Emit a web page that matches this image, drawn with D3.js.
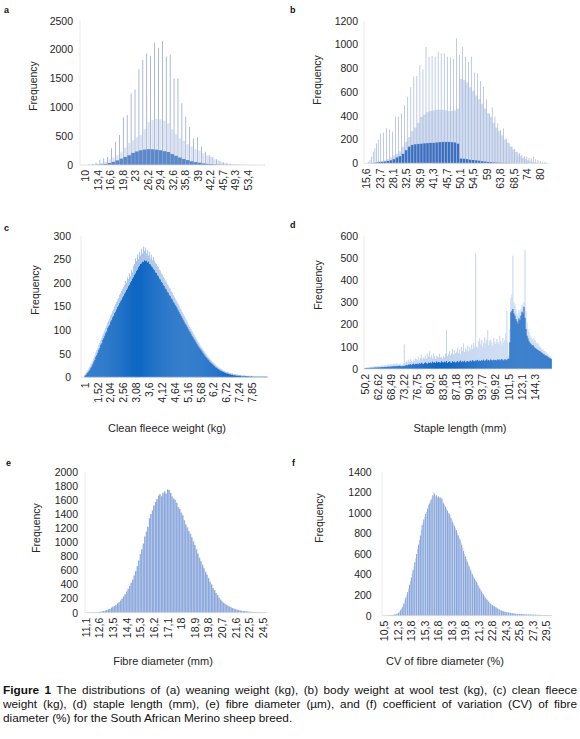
<!DOCTYPE html>
<html><head><meta charset="utf-8">
<script src="https://cdn.jsdelivr.net/npm/d3@7"></script>
<style>
body{margin:0;background:#fff;}
svg{display:block;font-family:"Liberation Sans",Arial,sans-serif;}
</style></head><body>
<svg id="fig" width="580" height="739"></svg>
<script>
// ---------------- DATA ----------------
// (a) weaning weight (kg)
const aTicks=[10,13.4,16.6,19.8,23,26.2,29.4,32.6,35.8,39,42.2,45.7,49.3,53.4];
const aTickLabels=["10","13,4","16,6","19,8","23","26,2","29,4","32,6","35,8","39","42,2","45,7","49,3","53,4"];
const aYTicks=[0,500,1000,1500,2000,2500];
const aKg=[11,12,13,14,15,16,17,18,19,20,21,22,23,24,25,26,27,28,29,30,31,32,33,34,35,36,37,38,39,40,41,42,43,44,45,46,47,48,49,50,51,52,53,54,55,56,57];
const aSpike=[8,15,40,90,120,140,290,400,520,825,865,1240,1310,1660,1820,1930,1890,2120,2030,2150,1875,1915,1500,1500,1070,840,660,460,480,320,230,170,140,100,70,45,30,20,14,10,7,5,4,3,2,2,1];
const aLight=[5,10,20,40,60,100,130,170,220,300,380,430,480,520,620,740,780,800,790,770,720,620,540,460,420,360,320,270,250,200,160,140,100,80,50,35,25,15,10,7,5,3,2,2,1,1,0];
const aFill=[2,3,6,10,20,35,55,80,110,140,170,210,235,255,268,275,272,265,255,240,225,190,160,130,105,85,65,50,40,28,20,15,10,7,5,3,2,1,1,1,0,0,0,0,0,0,0];

// (b) body weight at wool test (kg)
const bTicks=[15.6,23.7,28.1,32.5,36.9,41.3,45.7,50.1,54.5,59,63.8,68.5,74,80];
const bTickLabels=["15,6","23,7","28,1","32,5","36,9","41,3","45,7","50,1","54,5","59","63,8","68,5","74","80"];
const bYTicks=[0,200,400,600,800,1000,1200];
const bKg=[16,17,18,19,20,21,22,23,24,25,26,27,28,29,30,31,32,33,34,35,36,37,38,39,40,41,42,43,44,45,46,47,48,49,50,51,52,53,54,55,56,57,58,59,60,61,62,63,64,65,66,67,68,69,70,71,72,73,74,75,76,77,78,79,80,81,82,83,84];
const bSpike=[5,12,28,56,98,126,168,200,252,258,294,286,266,393,393,420,490,560,640,730,735,827,790,980,897,903,897,940,925,925,897,890,880,1051,911,980,897,855,897,763,757,692,645,538,420,471,393,336,280,294,210,168,140,120,98,85,70,60,56,45,40,56,35,28,20,12,8,4,2];
const bLight=[0,0,2,4,6,10,14,18,20,25,35,50,65,80,100,140,180,220,270,300,340,390,410,430,440,445,450,450,450,445,440,440,445,460,710,700,680,640,610,570,540,500,460,420,390,340,300,270,235,200,175,140,115,95,75,60,45,35,25,18,12,8,5,3,2,1,1,0,0];
const bDark=[0,1,1,2,3,5,8,10,12,15,20,25,35,50,60,80,110,140,155,160,163,165,168,170,172,172,175,178,180,180,180,178,175,165,40,38,35,30,28,25,22,18,15,12,10,8,6,5,4,3,3,2,2,1,1,1,1,1,1,0,0,0,0,0,0,0,0,0,0];

// (c) clean fleece weight (kg) – bins of 0.04 kg
const cTickIdx=[0,13,26,39,52,65,78,91,104,117,130,143,156,169];
const cTickLabels=["1","1,52","2,04","2,56","3,08","3,6","4,12","4,64","5,16","5,68","6,2","6,72","7,24","7,85"];
const cYTicks=[0,50,100,150,200,250,300];
const cFreq=[3,5,8,10,13,16,20,23,28,33,
37,43,47,52,58,62,69,72,79,83,
88,94,97,104,108,111,118,121,127,130,
136,139,144,149,152,157,161,164,169,172,
177,180,185,188,193,196,201,204,209,212,
217,220,225,228,233,236,240,241,245,244,
248,246,247,243,245,240,239,235,233,229,
227,222,221,216,214,209,207,202,200,195,
193,188,186,181,179,174,172,167,165,160,
157,153,150,146,142,138,134,130,126,122,
118,114,111,107,103,99,96,92,88,85,
81,78,74,71,67,64,61,58,55,52,
49,46,43,41,38,36,33,31,29,27,
25,23,21,20,18,17,15,14,13,12,
11,10,9,8,8,7,6,6,5,5,
4,4,4,3,3,3,3,3,2,2,
2,2,2,2,2,2,1,1,2,1,
1,1,1,1,1,1,1,1,1,1,1,1,1,1,1];
const cMax=[6,9,12,15,19,22,27,30,35,41,
46,52,57,62,68,73,78,83,89,94,
99,105,110,116,120,124,131,134,140,144,
150,155,160,165,168,175,178,183,187,191,
196,204,200,212,208,220,214,228,222,236,
240,252,246,260,250,265,258,272,262,277,
268,275,262,270,258,266,252,260,248,255,
247,243,240,236,233,228,226,220,218,213,
210,205,203,197,195,190,188,182,180,174,
171,167,163,159,155,151,146,143,138,134,
130,126,122,118,113,109,106,102,98,94,
90,86,83,79,75,72,68,65,62,59,
56,53,50,47,44,42,39,37,34,32,
30,28,26,24,22,21,19,18,17,15,
14,13,12,11,11,10,9,9,8,8,
7,7,6,6,6,5,5,5,4,4,
4,4,4,3,3,3,3,3,3,3,
3,2,2,2,2,2,2,2,2,2,2,2,2,2,1];

// (d) staple length (mm)
const dTickIdx=[0,13,26,39,52,65,78,91,104,117,130,143,156,169];
const dTickLabels=["50,2","62,62","68,49","73,22","76,75","80,3","83,85","87,18","90,33","93,77","96,92","101,5","123,1","144,3"];
const dYTicks=[0,100,200,300,400,500,600];
const dLight=[5,6,7,8,7,9,10,8,10,12,11,13,12,
13,14,12,15,16,14,17,18,16,19,20,18,21,
22,20,23,24,22,25,24,20,22,25,18,20,24,
110,28,35,30,40,33,45,38,30,42,36,48,45,
40,55,38,50,65,44,52,48,60,46,70,55,80,
52,62,48,70,58,45,60,55,50,68,52,55,48,
60,52,70,175,58,66,80,62,72,90,65,85,70,
78,95,72,88,68,100,82,115,76,92,84,105,80,
100,88,110,90,118,98,520,102,95,125,138,110,130,
100,120,145,115,132,175,108,128,130,118,105,140,123,
112,135,120,115,150,125,110,140,118,130,160,261,120,
60,180,320,335,510,300,290,270,250,240,265,255,270,
290,280,300,535,260,210,180,165,150,142,135,128,140,
130,120,112,118,105,100,96,90,88,82,80,75,70,66,60,56,52];
const dDark=[3,4,4,5,4,5,6,5,6,6,7,6,7,
7,8,7,8,9,8,9,10,9,10,11,10,11,
11,12,12,13,12,14,13,14,15,14,12,13,14,
14,15,18,16,20,19,22,18,21,24,20,23,22,
24,21,26,23,28,25,22,27,30,26,24,29,27,
30,26,33,28,31,27,34,29,32,30,28,35,31,
29,33,30,36,27,32,34,30,28,35,31,33,29,
32,36,30,34,38,31,35,33,37,30,34,36,32,
35,38,33,40,36,34,39,37,41,35,38,36,40,
37,42,36,39,44,38,41,37,43,40,38,42,39,
41,38,44,40,43,39,45,41,38,44,42,40,46,
46,120,255,262,270,250,240,225,215,205,228,220,240,
258,250,280,230,180,150,138,125,118,112,105,108,100,
95,92,88,85,82,80,76,72,68,66,62,60,58,54,50,48,45];

// (e) fibre diameter
const eTickIdx=[0,9,18,27,36,45,54,63,72,81,90,99,108,117];
const eTickLabels=["11,1","12,6","13,5","14,4","15,3","16,2","17,1","18","18,9","19,8","20,7","21,6","22,5","24,5"];
const eYTicks=[0,200,400,600,800,1000,1200,1400,1600,1800,2000];
const eFreq=[2,3,3,4,5,5,6,7,8,
12,15,20,25,30,38,48,55,70,
85,95,112,130,150,172,200,230,262,
300,340,380,425,470,530,590,660,740,
830,900,980,1080,1150,1220,1340,1400,1450,
1520,1570,1610,1660,1680,1650,1700,1720,1690,
1750,1740,1700,1650,1620,1600,1560,1500,1470,
1420,1380,1310,1250,1210,1160,1120,1070,1010,
960,900,840,780,730,680,630,580,540,
490,440,400,350,320,280,250,215,185,
160,140,125,110,98,85,75,65,56,
48,42,36,30,27,24,22,19,16,
14,12,11,10,9,8,7,7,6,
5,4,3];

// (f) CV of fibre diameter (%)
const fTickIdx=[0,15,30,45,60,75,90,105,120,135,150,165,180];
const fTickLabels=["10,5","12,3","13,8","15,3","16,8","18,3","19,8","21,3","22,8","24,3","25,8","27,3","29,5"];
const fYTicks=[0,200,400,600,800,1000,1200,1400];
const fFreq=[2,3,3,4,4,5,5,6,7,8,9,10,12,14,17,
22,28,40,52,65,82,100,120,150,175,200,228,262,300,335,
370,410,445,480,520,560,600,650,690,735,780,830,880,905,935,
960,990,1010,1040,1075,1090,1110,1130,1150,1170,1200,1180,1160,1170,1150,
1160,1145,1150,1130,1140,1110,1090,1075,1060,1040,1020,1000,990,975,950,
930,910,890,870,850,830,805,780,760,740,715,690,660,630,600,
575,550,525,500,480,460,440,420,400,380,360,345,330,315,295,
280,265,250,235,220,205,190,175,165,155,145,135,125,115,110,
104,98,92,86,80,74,68,62,58,54,50,46,43,40,37,
35,33,32,30,28,27,25,24,22,21,20,19,18,17,16,
16,15,15,14,14,13,13,12,12,12,11,11,11,10,10,
10,9,9,9,9,8,8,8,8,7,7,7,7,6,6,
6,6,5,5,5,4];

const xTitles=["Clean fleece weight (kg)","Staple length (mm)","Fibre diameter (mm)","CV of fibre diameter (%)"];
const captionLines=[
 ["Figure 1"," The distributions of (a) weaning weight (kg), (b) body weight at wool test (kg), (c) clean fleece"],
 ["","weight (kg), (d) staple length (mm), (e) fibre diameter (µm), and (f) coefficient of variation (CV) of fibre"],
 ["","diameter (%) for the South African Merino sheep breed."]
];

// ---------------- DRAWING ----------------
const svg=d3.select("#fig");
const FONT='"Liberation Sans", Arial, sans-serif';
const TXT="#262626";
const TICKFS=10.5;

function frame(p){
  const g=svg.append("g");
  const y=d3.scaleLinear().domain([0,p.yMax]).range([p.yBase,p.yTop]);
  g.append("line").attr("x1",p.x0).attr("x2",p.x0).attr("y1",p.yTop).attr("y2",p.yBase)
    .attr("stroke","#e6e6e6").attr("stroke-width",0.8);
  const ya=g.append("g").attr("transform",`translate(${p.yLab},0)`)
    .call(d3.axisLeft(y).tickValues(p.yTicks).tickFormat(d3.format("d")).tickSize(0).tickPadding(0));
  ya.select(".domain").remove();
  ya.attr("font-family",FONT).attr("font-size",TICKFS).attr("color",TXT);
  g.append("text").attr("transform",`translate(${p.fx},${p.fy}) rotate(-90)`)
    .attr("text-anchor","middle").attr("dy","0.35em").attr("font-size",10.5)
    .attr("fill",TXT).text("Frequency");
  g.append("text").attr("x",p.lx).attr("y",p.ly).attr("font-weight","bold")
    .attr("font-size",9).attr("fill","#111").text(p.letter);
  return {g,y};
}
function baseline(g,p){
  g.append("line").attr("x1",p.x0).attr("x2",p.x1).attr("y1",p.yBase).attr("y2",p.yBase)
    .attr("stroke","#d9d9d9").attr("stroke-width",0.8);
}
function xLabels(g,scale,vals,labels,yBase){
  const ax=g.append("g").attr("transform",`translate(0,${yBase})`)
    .call(d3.axisBottom(scale).tickValues(vals).tickFormat((d,i)=>labels[i]).tickSize(0).tickPadding(0));
  ax.select(".domain").remove();
  ax.attr("font-family",FONT).attr("font-size",TICKFS).attr("color",TXT);
  ax.selectAll("text").attr("transform","rotate(-90)").attr("text-anchor","end")
    .attr("x",-5).attr("y",0).attr("dy","0.35em");
}
function xTitle(t,x,y){
  svg.append("text").attr("x",x).attr("y",y).attr("text-anchor","middle")
    .attr("font-size",11).attr("fill",TXT).text(t);
}
function bars(g,data,x,w,y,yBase,color){
  g.append("g").selectAll("rect").data(data).join("rect")
    .attr("x",(d,i)=>x(i)).attr("width",w).attr("y",d=>y(d)).attr("height",d=>yBase-y(d))
    .attr("fill",color);
}

// ----- panel a -----
(function(){
  const p={x0:80,x1:265,yTop:20.7,yBase:165,yMax:2500,yTicks:aYTicks,yLab:73,fx:33,fy:86,letter:"a",lx:4,ly:13};
  const {g,y}=frame(p);
  const x=d3.scaleLinear().domain(aTicks).range(aTicks.map((d,i)=>85+i*12.5));
  g.append("g").selectAll("rect").data(aKg).join("rect")
    .attr("x",d=>x(d+0.2)).attr("width",d=>x(d+0.8)-x(d+0.2))
    .attr("y",(d,i)=>y(aLight[i])).attr("height",(d,i)=>p.yBase-y(aLight[i])).attr("fill","#dbe3f2");
  g.append("g").selectAll("rect").data(aKg).join("rect")
    .attr("x",d=>x(d)).attr("width",d=>x(d+1)-x(d))
    .attr("y",(d,i)=>y(aFill[i])).attr("height",(d,i)=>p.yBase-y(aFill[i])).attr("fill","#5a88cc");
  g.append("g").selectAll("rect").data(aKg).join("rect")
    .attr("x",d=>x(d)-0.35).attr("width",0.7)
    .attr("y",(d,i)=>y(aSpike[i])).attr("height",(d,i)=>p.yBase-y(aSpike[i])).attr("fill","#8a9dc6");
  baseline(g,p);
  xLabels(g,x,aTicks,aTickLabels,p.yBase);
})();

// ----- panel b -----
(function(){
  const p={x0:364,x1:548,yTop:20.7,yBase:163.3,yMax:1200,yTicks:bYTicks,yLab:358,fx:317,fy:80,letter:"b",lx:290,ly:13};
  const {g,y}=frame(p);
  const x=d3.scaleLinear().domain(bTicks).range(bTicks.map((d,i)=>366+i*13.4));
  g.append("g").selectAll("rect").data(bKg).join("rect")
    .attr("x",d=>x(d)).attr("width",d=>x(d+1)-x(d))
    .attr("y",(d,i)=>y(bLight[i])).attr("height",(d,i)=>p.yBase-y(bLight[i])).attr("fill","#d2dcef");
  g.append("g").selectAll("rect").data(bKg).join("rect")
    .attr("x",d=>x(d)).attr("width",d=>x(d+1)-x(d))
    .attr("y",(d,i)=>y(bDark[i])).attr("height",(d,i)=>p.yBase-y(bDark[i])).attr("fill","#3b70c0");
  g.append("g").selectAll("rect").data(bKg).join("rect")
    .attr("x",d=>x(d)-0.35).attr("width",0.7)
    .attr("y",(d,i)=>y(bSpike[i])).attr("height",(d,i)=>p.yBase-y(bSpike[i])).attr("fill","#a3b4da");
  baseline(g,p);
  xLabels(g,x,bTicks,bTickLabels,p.yBase);
})();

// ----- panel c -----
(function(){
  const p={x0:81,x1:267,yTop:235.7,yBase:377.3,yMax:300,yTicks:cYTicks,yLab:71,fx:35,fy:290,letter:"c",lx:4,ly:231};
  const {g,y}=frame(p);
  const w=12.87/13, s=85-w/2;
  const x=d3.scaleBand().domain(d3.range(cFreq.length)).range([s,s+cFreq.length*w]);
  bars(g,cMax,i=>x(i),x.bandwidth()+0.05,y,p.yBase,"#a9c3e8");
  bars(g,cFreq,i=>x(i),x.bandwidth()+0.05,y,p.yBase,"#0f67c3");
  baseline(g,p);
  xLabels(g,x,cTickIdx,cTickLabels,p.yBase);
  xTitle(xTitles[0],167,432);
})();

// ----- panel d -----
(function(){
  const p={x0:364,x1:552,yTop:235.7,yBase:369,yMax:600,yTicks:dYTicks,yLab:358,fx:318,fy:285,letter:"d",lx:290,ly:228};
  const {g,y}=frame(p);
  const w=13.08/13, s=365-w/2;
  const x=d3.scaleBand().domain(d3.range(dDark.length)).range([s,s+dDark.length*w]);
  bars(g,dLight,i=>x(i),x.bandwidth(),y,p.yBase,"#c3d4ef");
  bars(g,dDark,i=>x(i),x.bandwidth()+0.05,y,p.yBase,"#1467c3");
  baseline(g,p);
  xLabels(g,x,dTickIdx,dTickLabels,p.yBase);
  xTitle(xTitles[1],460,432);
})();

// ----- panel e -----
(function(){
  const p={x0:85,x1:267,yTop:471.7,yBase:612.7,yMax:2000,yTicks:eYTicks,yLab:78,fx:36,fy:528,letter:"e",lx:6,ly:466};
  const {g,y}=frame(p);
  const w=13.64/9, s=86-w/2;
  const x=d3.scaleBand().domain(d3.range(eFreq.length)).range([s,s+eFreq.length*w]);
  bars(g,eFreq,i=>x(i),x.bandwidth(),y,p.yBase,"#b3c6e8");
  bars(g,eFreq,i=>x(i),0.55,y,p.yBase,"#6a8fd2");
  baseline(g,p);
  xLabels(g,x,eTickIdx,eTickLabels,p.yBase);
  xTitle(xTitles[2],163,665);
})();

// ----- panel f -----
(function(){
  const p={x0:382,x1:552,yTop:471.7,yBase:615.7,yMax:1400,yTicks:fYTicks,yLab:371.7,fx:319,fy:518,letter:"f",lx:292,ly:466};
  const {g,y}=frame(p);
  const w=13.53/15, s=384.3-w/2;
  const x=d3.scaleBand().domain(d3.range(fFreq.length)).range([s,s+fFreq.length*w]);
  bars(g,fFreq,i=>x(i),x.bandwidth()+0.05,y,p.yBase,"#b3c6e8");
  g.append("g").selectAll("rect").data(fFreq).join("rect")
    .attr("x",(d,i)=>x(i)).attr("width",(d,i)=>i%2===0?0.6:0)
    .attr("y",d=>y(d)).attr("height",d=>p.yBase-y(d)).attr("fill","#6a8fd2");
  baseline(g,p);
  xLabels(g,x,fTickIdx,fTickLabels,p.yBase);
  xTitle(xTitles[3],445,665);
})();

// ----- caption (justified lines 1-2 via word spacing) -----
captionLines.forEach((ln,i)=>{
  const t=svg.append("text").attr("x",3).attr("y",694+i*14).attr("font-size",11.8).attr("fill","#111");
  if(ln[0]) t.append("tspan").attr("font-weight","bold").text(ln[0]);
  t.append("tspan").text(ln[1]);
  if(i<2){
    const len=t.node().getComputedTextLength();
    const spaces=(ln[0]+ln[1]).split(" ").length-1;
    if(len<574) t.attr("word-spacing",(574-len)/spaces);
    else t.attr("textLength",574).attr("lengthAdjust","spacingAndGlyphs");
  }
});
</script></body></html>
